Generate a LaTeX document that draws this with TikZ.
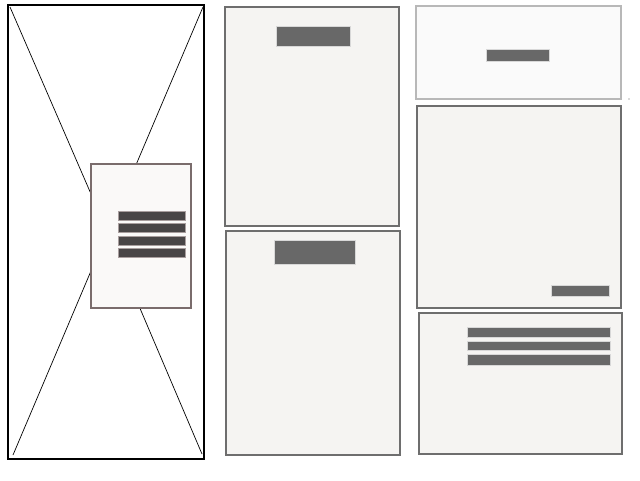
\documentclass[tikz,border=0pt]{standalone}
\begin{document}
\begin{tikzpicture}[x=1pt,y=-1pt,
  every node/.style={outer sep=0pt,inner sep=0pt,anchor=north west},
  panel/.style={draw=panelstroke,fill=panelfill,line width=1.5pt},
  lightpanel/.style={draw=lightstroke,fill=lightfill,line width=1.5pt},
  bar/.style={draw=barrim,fill=barfill,line width=0.6pt},
  darkbar/.style={draw=darkrim,fill=darkbarfill,line width=0.8pt},
  xline/.style={draw=black,line width=0.7pt}]
\definecolor{panelstroke}{HTML}{6E6E6E}
\definecolor{panelfill}{HTML}{F5F4F2}
\definecolor{lightstroke}{HTML}{B8B8B8}
\definecolor{lightfill}{HTML}{FAFAFA}
\definecolor{barfill}{HTML}{686868}
\definecolor{barrim}{HTML}{D8D8D8}
\definecolor{darkbarfill}{HTML}{484546}
\definecolor{darkrim}{HTML}{A89E9E}
\definecolor{innerstroke}{HTML}{7A6C6C}
\definecolor{innerfill}{HTML}{FAF9F8}
\useasboundingbox[fill=white] (0,0) rectangle (640,480);

% left frame with X
\node[draw=black,line width=2pt,minimum width=196pt,minimum height=454pt] (frame) at (8,5) {};
\coordinate (tl) at (10,7);
\coordinate (tr) at (203,7);
\coordinate (bl) at (13,455);
\coordinate (br) at (202,454);
\coordinate (mid) at (107.5,232);
\draw[xline] (tl) -- (mid) -- (br);
\draw[xline] (tr) -- (mid) -- (bl);
\node[draw=innerstroke,fill=innerfill,line width=1.5pt,minimum width=100pt,minimum height=144pt] (inner) at (91,164) {};
\node[darkbar,minimum width=67pt,minimum height=9pt] (ib1) at (118,211) {};
\node[darkbar,minimum width=67pt,minimum height=9pt] (ib2) at (118,223) {};
\node[darkbar,minimum width=67pt,minimum height=9pt] (ib3) at (118,236) {};
\node[darkbar,minimum width=67pt,minimum height=9pt] (ib4) at (118,248) {};

% middle column
\node[panel,minimum width=174pt,minimum height=219pt] (m1) at (225,7) {};
\node[bar,minimum width=74pt,minimum height=20pt] (m1b) at (276,26) {};
\node[panel,minimum width=174pt,minimum height=224pt] (m2) at (226,231) {};
\node[bar,minimum width=81pt,minimum height=24pt] (m2b) at (274,240) {};

% right column
\node[lightpanel,minimum width=205pt,minimum height=93pt] (r1) at (416,6) {};
\node[bar,minimum width=63pt,minimum height=12pt] (r1b) at (486,49) {};
\fill[black!60] (629,99) circle (0.6pt);
\node[panel,minimum width=204pt,minimum height=202pt] (r2) at (417,106) {};
\node[bar,minimum width=58pt,minimum height=11pt] (r2b) at (551,285) {};
\node[panel,minimum width=203pt,minimum height=141pt] (r3) at (419,313) {};
\node[bar,minimum width=143pt,minimum height=10pt] (r3b1) at (467,327) {};
\node[bar,minimum width=143pt,minimum height=9pt] (r3b2) at (467,341) {};
\node[bar,minimum width=143pt,minimum height=11pt] (r3b3) at (467,354) {};
\end{tikzpicture}
\end{document}
